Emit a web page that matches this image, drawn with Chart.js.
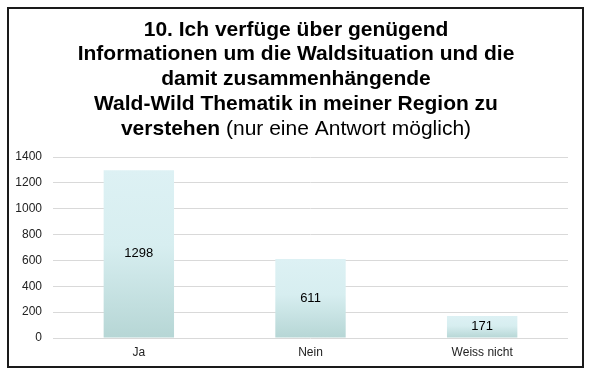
<!DOCTYPE html>
<html>
<head>
<meta charset="utf-8">
<script src="https://cdn.jsdelivr.net/npm/chart.js@4/dist/chart.umd.min.js"></script>
<style>
  html, body { margin: 0; padding: 0; background: #fff; }
  #wrap { position: relative; width: 591px; height: 371px; }
  #frame { position: absolute; left: 7px; top: 7px; width: 573px; height: 357px; border: 2px solid #1a1a1a; pointer-events: none; }
</style>
</head>
<body>
<div id="wrap">
  <canvas id="c" width="591" height="371"></canvas>
  <div id="frame"></div>
</div>
<script>
const categories = ["Ja", "Nein", "Weiss nicht"];
const values = [1298, 611, 171];
const yTicks = [0, 200, 400, 600, 800, 1000, 1200, 1400];
const titleBoldLines = [
  "10. Ich verfüge über genügend",
  "Informationen um die Waldsituation und die",
  "damit zusammenhängende",
  "Wald-Wild Thematik in meiner Region zu"
];
const titleLastBold = "verstehen";
const titleLastNormal = " (nur eine Antwort möglich)";

const FONT = "'Liberation Sans', Arial, sans-serif";

const titlePlugin = {
  id: 'mixedTitle',
  afterDraw(chart) {
    const ctx = chart.ctx;
    ctx.save();
    ctx.fillStyle = '#000';
    ctx.textBaseline = 'middle';
    const cx = 296, y0 = 30, lh = 24.7;
    ctx.font = "bold 21px " + FONT;
    ctx.textAlign = 'center';
    titleBoldLines.forEach((t, i) => ctx.fillText(t, cx, y0 + i * lh));
    const yl = y0 + titleBoldLines.length * lh;
    ctx.font = "bold 21px " + FONT;
    const wb = ctx.measureText(titleLastBold).width;
    ctx.font = "21px " + FONT;
    const wn = ctx.measureText(titleLastNormal).width;
    const start = cx - (wb + wn) / 2;
    ctx.textAlign = 'left';
    ctx.font = "bold 21px " + FONT;
    ctx.fillText(titleLastBold, start, yl);
    ctx.font = "21px " + FONT;
    ctx.fillText(titleLastNormal, start + wb, yl);
    ctx.restore();
  }
};

const valueLabels = {
  id: 'valueLabels',
  afterDatasetsDraw(chart) {
    const ctx = chart.ctx;
    const meta = chart.getDatasetMeta(0);
    ctx.save();
    ctx.font = "13px " + FONT;
    ctx.fillStyle = '#000';
    ctx.textAlign = 'center';
    ctx.textBaseline = 'middle';
    meta.data.forEach((bar, i) => {
      ctx.fillText(String(values[i]), bar.x, (bar.y + bar.base) / 2);
    });
    ctx.restore();
  }
};

function barFill(context) {
  const chart = context.chart;
  const ys = chart.scales.y;
  const fallback = '#d6eef0';
  if (!ys || !chart.chartArea || context.dataIndex === undefined) return fallback;
  const top = ys.getPixelForValue(values[context.dataIndex]);
  const base = ys.getPixelForValue(0);
  if (!isFinite(top) || !isFinite(base) || top === base) return fallback;
  const g = chart.ctx.createLinearGradient(0, top, 0, base);
  g.addColorStop(0, '#ddf1f4');
  g.addColorStop(0.45, '#d7eef0');
  g.addColorStop(1, '#b6d6d5');
  return g;
}

new Chart(document.getElementById('c'), {
  type: 'bar',
  data: {
    labels: categories,
    datasets: [{
      data: values,
      backgroundColor: barFill,
      borderWidth: 0,
      categoryPercentage: 1,
      barPercentage: 0.41
    }]
  },
  options: {
    responsive: false,
    animation: false,
    devicePixelRatio: 1,
    layout: { padding: { left: 10, right: 23, top: 157, bottom: 0 } },
    plugins: { legend: { display: false }, title: { display: false }, tooltip: { enabled: false } },
    scales: {
      x: {
        grid: { display: false, drawTicks: false },
        border: { display: false },
        ticks: { color: '#222', font: { family: FONT, size: 12 }, padding: 7 },
        afterFit(s) { s.height = 33; }
      },
      y: {
        min: 0, max: 1400,
        afterBuildTicks(s) { s.ticks = yTicks.map(v => ({ value: v })); },
        grid: { color: '#d9d9d9', lineWidth: 1, drawTicks: false },
        border: { display: false },
        ticks: { color: '#222', font: { family: FONT, size: 12 }, padding: 11, callback: v => String(v) },
        afterFit(s) { s.width = 43; }
      }
    }
  },
  plugins: [titlePlugin, valueLabels]
});
</script>
</body>
</html>
